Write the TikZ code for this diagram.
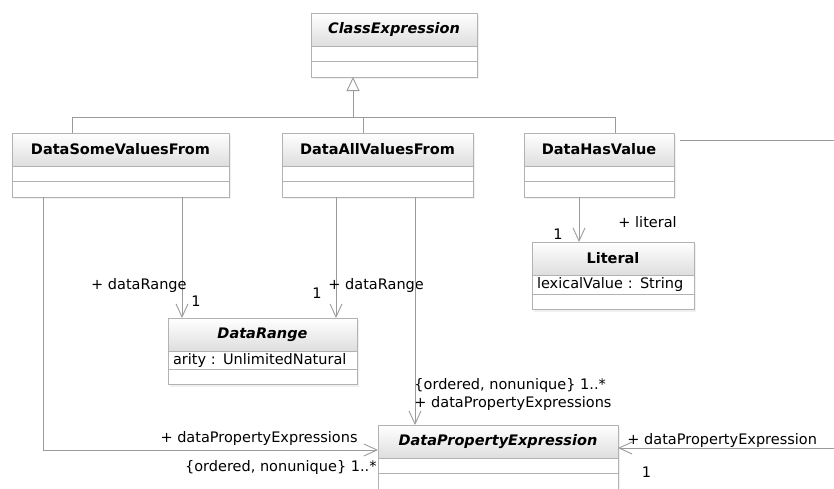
\documentclass[tikz,border=0pt]{standalone}
\usepackage{fontspec}
\setmainfont{DejaVu Sans}
\usetikzlibrary{positioning,arrows.meta,shadows}

\definecolor{linegray}{RGB}{155,155,155}
\definecolor{boxgray}{RGB}{178,178,178}
\definecolor{headgray}{RGB}{222,222,222}

\begin{document}
\begin{tikzpicture}[x=1pt,y=-1pt,
  font=\fontsize{14.5}{16}\selectfont,
  head/.style={draw=boxgray,top color=white,bottom color=headgray,line width=0.9pt,inner sep=0pt,outer sep=0pt,minimum height=33pt,font=\fontsize{14.5}{16}\selectfont\bfseries,drop shadow={shadow xshift=2pt,shadow yshift=-2pt,opacity=0.12}},
  abstr/.style={head,font=\fontsize{14.5}{16}\selectfont\bfseries\itshape},
  comp/.style={draw=boxgray,fill=white,line width=0.9pt,inner sep=0pt,outer sep=0pt,minimum height=15.5pt,drop shadow={shadow xshift=2pt,shadow yshift=-2pt,opacity=0.12}},
  attr/.style={comp,minimum height=19pt,inner xsep=5pt,align=left},
  line/.style={draw=linegray,line width=0.9pt},
  assoc/.style={line,-{Straight Barb[length=13pt,width=12pt]}},
  gen/.style={line,-{Triangle[open,length=14pt,width=13pt,fill=white]}},
  lbl/.style={inner sep=0pt}
]
\useasboundingbox (0,0) rectangle (834,488);
\clip (0,0) rectangle (834,488);

% Top - abstract super class
\node[abstr,minimum width=166pt,anchor=north west] at (311,13) (ce) {ClassExpression};
\node[comp,minimum width=166pt,below=0pt of ce] (ce-a) {};
\node[comp,minimum width=166pt,below=0pt of ce-a] (ce-b) {};

% Middle row - restrictions
\node[head,minimum width=217pt,anchor=north west] at (12,133) (dsv) {DataSomeValuesFrom};
\node[comp,minimum width=217pt,below=0pt of dsv] (dsv-a) {};
\node[comp,minimum width=217pt,below=0pt of dsv-a] (dsv-b) {};

\node[head,minimum width=191pt,anchor=north west] at (282,133) (dav) {DataAllValuesFrom};
\node[comp,minimum width=191pt,below=0pt of dav] (dav-a) {};
\node[comp,minimum width=191pt,below=0pt of dav-a] (dav-b) {};

\node[head,minimum width=150pt,anchor=north west] at (524,133) (dhv) {DataHasValue};
\node[comp,minimum width=150pt,below=0pt of dhv] (dhv-a) {};
\node[comp,minimum width=150pt,below=0pt of dhv-a] (dhv-b) {};

% Targets
\node[head,minimum width=162pt,anchor=north west] at (532,242) (lit) {Literal};
\node[attr,minimum width=162pt,text width=152pt,below=0pt of lit] (lit-a) {lexicalValue : String};
\node[comp,minimum width=162pt,below=0pt of lit-a] (lit-b) {};

\node[abstr,minimum width=189pt,anchor=north west] at (168,318) (dr) {DataRange};
\node[attr,minimum width=189pt,text width=179pt,minimum height=18pt,below=0pt of dr] (dr-a) {arity : UnlimitedNatural};
\node[comp,minimum width=189pt,below=0pt of dr-a] (dr-b) {};

\node[abstr,minimum width=240pt,anchor=north west] at (378,425) (dpe) {DataPropertyExpression};
\node[comp,minimum width=240pt,below=0pt of dpe] (dpe-a) {};
\node[comp,minimum width=240pt,below=0pt of dpe-a] (dpe-b) {};

% Connection points
\coordinate (gj) at ([xshift=42pt,yshift=-40pt]ce-b.south west);
\coordinate (dsv-t) at ([xshift=60pt]dsv.north west);
\coordinate (dav-t) at ([xshift=81pt]dav.north west);
\coordinate (dhv-t) at ([xshift=91pt]dhv.north west);
\coordinate (dsv-l) at ([xshift=31pt]dsv-b.south west);
\coordinate (dsv-r) at ([xshift=170pt]dsv-b.south west);
\coordinate (dav-l) at ([xshift=54pt]dav-b.south west);
\coordinate (dav-r) at ([xshift=133pt]dav-b.south west);
\coordinate (dhv-b) at ([xshift=55pt]dhv-b.south west);
\coordinate (dhv-e) at ([xshift=6pt,yshift=-7pt]dhv.north east);
\coordinate (dpe-l) at ([yshift=-8.5pt]dpe.west);
\coordinate (dpe-r) at ([yshift=-6.5pt]dpe.east);
\coordinate (far1) at ([xshift=200pt]dhv-e);
\coordinate (far2) at (far1 |- dpe-r);

% Generalization
\draw[gen] (gj) -- (gj |- ce-b.south);
\draw[line] (dsv-t) |- (dhv-t |- gj) -- (dhv-t);
\draw[line] (dav-t) -- (dav-t |- gj);

% Associations
\draw[assoc] (dsv-r) -- (dsv-r |- dr.north)
  node[lbl,anchor=east,xshift=5pt,yshift=33pt] (role1) {+ dataRange}
  node[lbl,anchor=west,xshift=9pt,yshift=17pt] (mult1) {1};
\draw[assoc] (dav-l) -- (dav-l |- dr.north)
  node[lbl,anchor=west,xshift=-8pt,yshift=33pt] (role2) {+ dataRange}
  node[lbl,anchor=east,xshift=-14pt,yshift=25pt] (mult2) {1};
\draw[assoc] (dav-r) -- (dav-r |- dpe.north)
  node[lbl,anchor=west,xshift=-1pt,yshift=40pt] (mult3) {\{ordered, nonunique\} 1..*}
  node[lbl,anchor=west,xshift=-1pt,yshift=22pt] (role3) {+ dataPropertyExpressions};
\draw[assoc] (dsv-l) |- (dpe-l)
  node[lbl,anchor=east,xshift=-20pt,yshift=12pt] (role4) {+ dataPropertyExpressions}
  node[lbl,anchor=east,xshift=-1pt,yshift=-17pt] (mult4) {\{ordered, nonunique\} 1..*};
\draw[assoc] (dhv-b) -- (dhv-b |- lit.north)
  node[lbl,xshift=-21pt,yshift=8pt] (mult5) {1}
  node[lbl,anchor=west,xshift=39pt,yshift=20pt] (role5) {+ literal};
\draw[assoc] (dhv-e) -- (far1) -- (far2) -- (dpe-r)
  node[lbl,anchor=west,xshift=9pt,yshift=8pt] (role6) {+ dataPropertyExpression}
  node[lbl,xshift=28.5pt,yshift=-24pt] (mult6) {1};
\end{tikzpicture}
\end{document}
